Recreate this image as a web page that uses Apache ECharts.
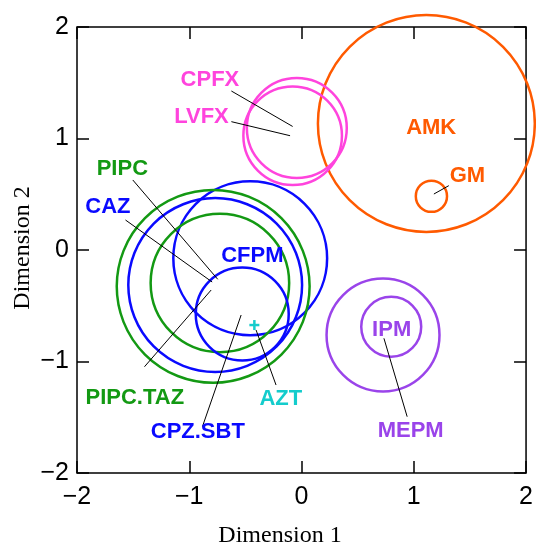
<!DOCTYPE html>
<html>
<head>
<meta charset="utf-8">
<script src="https://cdn.jsdelivr.net/npm/echarts@6/dist/echarts.min.js"></script>
<style>html,body{margin:0;padding:0;background:#fff;}#main{width:536px;height:545px;}</style>
</head>
<body>
<div id="main"></div>
<script>
// ---- data ----
const xTicks = [-2, -1, 0, 1, 2];
const yTicks = [-2, -1, 0, 1, 2];

const circleNames = ['AMK', 'GM', 'CPFX', 'LVFX', 'CFPM', 'PIPC.TAZ', 'CAZ', 'PIPC', 'CPZ.SBT', 'MEPM', 'IPM'];
const circleX = [1.112, 1.157, -0.042, -0.079, -0.457, -0.787, -0.769, -0.727, -0.528, 0.726, 0.799];
const circleY = [1.135, 0.482, 1.094, 1.024, -0.074, -0.326, -0.314, -0.296, -0.574, -0.762, -0.688];
const circleR = [0.966, 0.139, 0.445, 0.439, 0.685, 0.859, 0.774, 0.617, 0.414, 0.503, 0.267];

const pointNames = ['AZT'];
const pointX = [-0.420];
const pointY = [-0.673];

const labelNames = ['CPFX', 'LVFX', 'PIPC', 'CAZ', 'CFPM', 'PIPC.TAZ', 'CPZ.SBT', 'AZT', 'AMK', 'GM', 'IPM', 'MEPM'];
const labelX = [-0.816, -0.891, -1.596, -1.725, -0.438, -1.485, -0.924, -0.184, 1.155, 1.478, 0.803, 0.972];
const labelY = [1.525, 1.196, 0.724, 0.383, -0.054, -1.325, -1.630, -1.332, 1.091, 0.666, -0.717, -1.621];

const leaderNames = ['CPFX', 'LVFX', 'PIPC', 'CAZ', 'PIPC.TAZ', 'CPZ.SBT', 'AZT', 'GM', 'MEPM'];
const leaderX0 = [-0.625, -0.625, -1.503, -1.568, -1.399, -0.883, -0.227, 1.312, 0.941];
const leaderY0 = [1.426, 1.151, 0.628, 0.269, -1.047, -1.585, -1.211, 0.577, -1.495];
const leaderX1 = [-0.079, -0.102, -0.746, -0.796, -0.805, -0.538, -0.405, 1.179, 0.734];
const leaderY1 = [1.108, 1.025, -0.263, -0.287, -0.359, -0.583, -0.717, 0.502, -0.792];

// ---- styles ----
const PINK = '#ff44dd', ORANGE = '#ff5a00', BLUE = '#0a0aff', GREEN = '#139913', PURPLE = '#9a44ea', CYAN = '#14cccc';
const colorOf = {
  'AMK': ORANGE, 'GM': ORANGE, 'CPFX': PINK, 'LVFX': PINK, 'CFPM': BLUE, 'CAZ': BLUE, 'CPZ.SBT': BLUE,
  'PIPC': GREEN, 'PIPC.TAZ': GREEN, 'MEPM': PURPLE, 'IPM': PURPLE, 'AZT': CYAN
};
const minusFmt = v => (v < 0 ? '\u2212' + Math.abs(v) : String(v));

const chart = echarts.init(document.getElementById('main'), null, { renderer: 'canvas' });

const baseAxis = {
  type: 'value', min: xTicks[0], max: xTicks[xTicks.length - 1], interval: 1,
  axisLine: { show: false, onZero: false },
  splitLine: { show: false },
  axisTick: { show: true, inside: true, length: 12, lineStyle: { color: '#000', width: 1.5 } }
};
const labelFont = '"Liberation Sans", Arial, sans-serif';

const option = {
  animation: false,
  backgroundColor: '#fff',
  grid: { left: 77, right: 9, top: 27, bottom: 72, show: true, borderColor: '#000', borderWidth: 1.5, backgroundColor: 'transparent', containLabel: false },
  xAxis: [
    Object.assign({}, baseAxis, {
      position: 'bottom',
      axisLabel: { show: true, fontSize: 25, color: '#000', fontFamily: labelFont, margin: 12, formatter: minusFmt }
    }),
    Object.assign({}, baseAxis, { position: 'top', axisLabel: { show: false } })
  ],
  yAxis: [
    Object.assign({}, baseAxis, {
      min: yTicks[0], max: yTicks[yTicks.length - 1],
      position: 'left',
      axisLabel: { show: true, fontSize: 25, color: '#000', fontFamily: labelFont, margin: 8, formatter: minusFmt }
    }),
    Object.assign({}, baseAxis, { min: yTicks[0], max: yTicks[yTicks.length - 1], position: 'right', axisLabel: { show: false } })
  ],
  graphic: [
    { type: 'text', x: 280, y: 536, style: { text: 'Dimension 1', font: '24px "Liberation Serif", "Times New Roman", serif', fill: '#000', align: 'center', verticalAlign: 'middle', textAlign: 'center', textVerticalAlign: 'middle' } },
    { type: 'text', x: 23, y: 248, rotation: Math.PI / 2, style: { text: 'Dimension 2', font: '24px "Liberation Serif", "Times New Roman", serif', fill: '#000', align: 'center', verticalAlign: 'middle', textAlign: 'center', textVerticalAlign: 'middle' } }
  ],
  series: [
    {
      type: 'custom', name: 'circles', clip: false, silent: true, z: 2,
      data: circleNames.map((n, i) => [circleX[i], circleY[i], circleR[i]]),
      encode: { x: 0, y: 1 },
      renderItem: function (params, api) {
        const i = params.dataIndex;
        const c = api.coord([api.value(0), api.value(1)]);
        const r = api.size([api.value(2), 0])[0];
        return { type: 'circle', shape: { cx: c[0], cy: c[1], r: r }, style: { fill: 'none', stroke: colorOf[circleNames[i]], lineWidth: 2.5 } };
      }
    },
    {
      type: 'custom', name: 'leaders', clip: false, silent: true, z: 3,
      data: leaderNames.map((n, i) => [leaderX0[i], leaderY0[i], leaderX1[i], leaderY1[i]]),
      encode: { x: 0, y: 1 },
      renderItem: function (params, api) {
        const a = api.coord([api.value(0), api.value(1)]);
        const b = api.coord([api.value(2), api.value(3)]);
        return { type: 'line', shape: { x1: a[0], y1: a[1], x2: b[0], y2: b[1] }, style: { stroke: '#000', lineWidth: 1 } };
      }
    },
    {
      type: 'custom', name: 'points', clip: false, silent: true, z: 4,
      data: pointNames.map((n, i) => [pointX[i], pointY[i]]),
      encode: { x: 0, y: 1 },
      renderItem: function (params, api) {
        const i = params.dataIndex;
        const c = api.coord([api.value(0), api.value(1)]);
        const h = 5, col = colorOf[pointNames[i]];
        return { type: 'group', children: [
          { type: 'line', shape: { x1: c[0] - h, y1: c[1], x2: c[0] + h, y2: c[1] }, style: { stroke: col, lineWidth: 2.5 } },
          { type: 'line', shape: { x1: c[0], y1: c[1] - h, x2: c[0], y2: c[1] + h }, style: { stroke: col, lineWidth: 2.5 } }
        ] };
      }
    },
    {
      type: 'custom', name: 'labels', clip: false, silent: true, z: 5,
      data: labelNames.map((n, i) => [labelX[i], labelY[i]]),
      encode: { x: 0, y: 1 },
      renderItem: function (params, api) {
        const i = params.dataIndex;
        const c = api.coord([api.value(0), api.value(1)]);
        return { type: 'text', x: c[0], y: c[1], style: { text: labelNames[i], fill: colorOf[labelNames[i]], font: 'bold 22px "Liberation Sans", Arial, sans-serif', align: 'center', verticalAlign: 'middle' } };
      }
    }
  ]
};
chart.setOption(option);
</script>
</body>
</html>
